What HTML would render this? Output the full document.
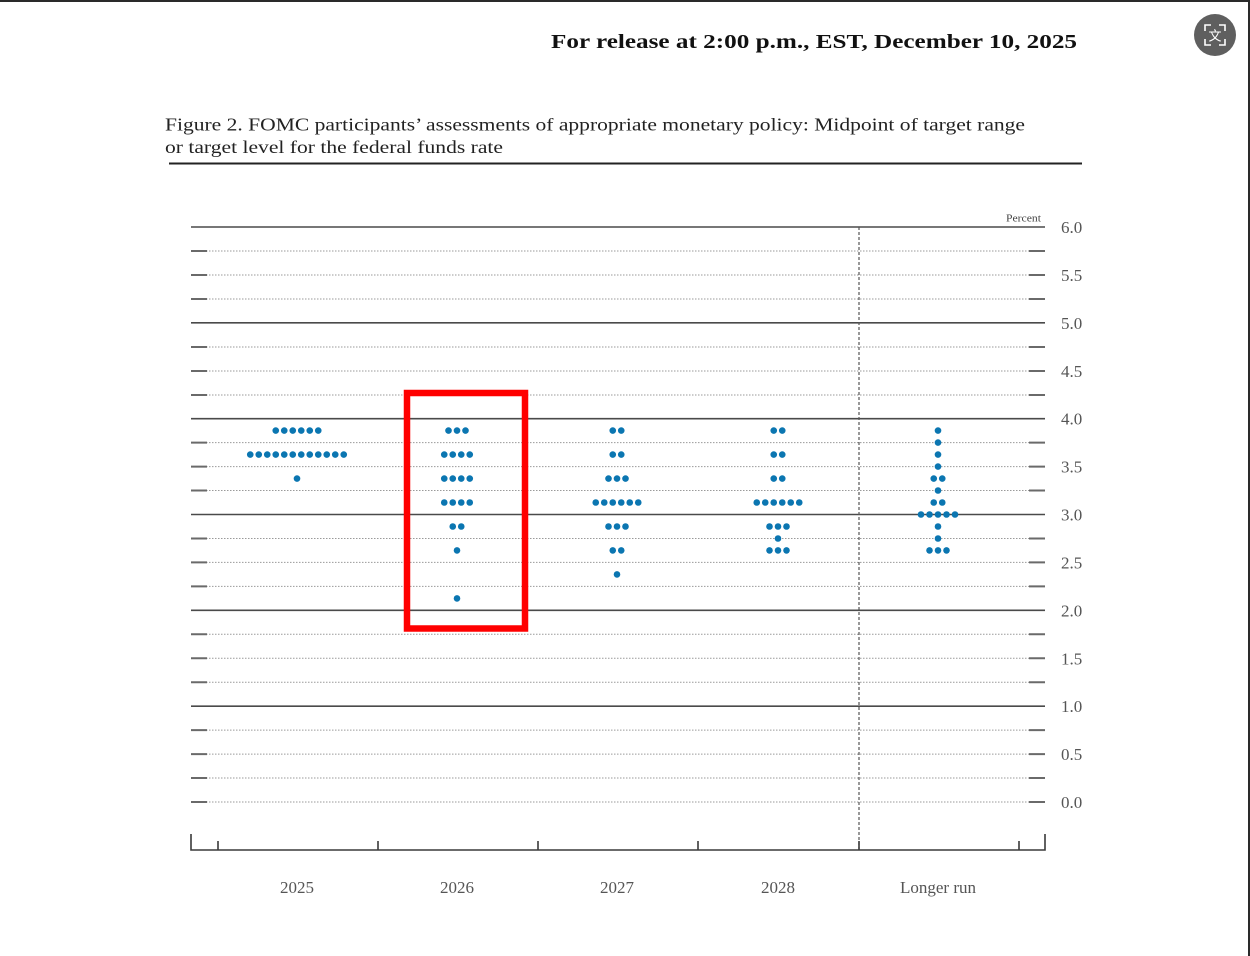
<!DOCTYPE html>
<html>
<head>
<meta charset="utf-8">
<style>
  html,body{margin:0;padding:0;background:#fff;}
  body{width:1250px;height:956px;overflow:hidden;}
  svg{display:block;}
  .lbl{font-family:"Liberation Serif",serif;fill:#555;}
</style>
</head>
<body>
<svg width="1250" height="956" viewBox="0 0 1250 956" xmlns="http://www.w3.org/2000/svg">
  <rect x="0" y="0" width="1250" height="956" fill="#fff"/>
  <!-- frame -->
  <rect x="0" y="0" width="1250" height="2" fill="#2a2a2a"/>
  <rect x="1248" y="0" width="2" height="956" fill="#2a2a2a"/>

  <!-- translate icon -->
  <circle cx="1215" cy="35" r="21" fill="#5f5f5f"/>
  <g stroke="#fff" stroke-width="1.6" fill="none">
    <path d="M1205 31 V25 H1211"/>
    <path d="M1219 25 H1225 V31"/>
    <path d="M1225 39 V45 H1219"/>
    <path d="M1211 45 H1205 V39"/>
  </g>
  <text x="1215" y="40.5" text-anchor="middle" font-family="'Noto Sans CJK SC', sans-serif" font-size="13" fill="#fff">文</text>

  <!-- header -->
  <text x="551" y="48" font-family="'Liberation Serif', serif" font-weight="bold" font-size="20" fill="#111" textLength="526" lengthAdjust="spacingAndGlyphs">For release at 2:00 p.m., EST, December 10, 2025</text>

  <!-- title -->
  <text x="165" y="130.5" font-family="'Liberation Serif', serif" font-size="18" fill="#222" textLength="860" lengthAdjust="spacingAndGlyphs">Figure 2. FOMC participants’ assessments of appropriate monetary policy: Midpoint of target range</text>
  <text x="165" y="153" font-family="'Liberation Serif', serif" font-size="18" fill="#222" textLength="338" lengthAdjust="spacingAndGlyphs">or target level for the federal funds rate</text>
  <line x1="169" y1="163.5" x2="1082" y2="163.5" stroke="#222" stroke-width="2"/>

  <!-- dotted gridlines -->
  <g stroke="#9a9a9a" stroke-width="1" stroke-dasharray="1.5 1.5">
    <line x1="191" y1="251" x2="1045" y2="251"/>
    <line x1="191" y1="275" x2="1045" y2="275"/>
    <line x1="191" y1="299" x2="1045" y2="299"/>
    <line x1="191" y1="347" x2="1045" y2="347"/>
    <line x1="191" y1="371" x2="1045" y2="371"/>
    <line x1="191" y1="395" x2="1045" y2="395"/>
    <line x1="191" y1="442.6" x2="1045" y2="442.6"/>
    <line x1="191" y1="466.6" x2="1045" y2="466.6"/>
    <line x1="191" y1="490.5" x2="1045" y2="490.5"/>
    <line x1="191" y1="538.5" x2="1045" y2="538.5"/>
    <line x1="191" y1="562.4" x2="1045" y2="562.4"/>
    <line x1="191" y1="586.4" x2="1045" y2="586.4"/>
    <line x1="191" y1="634.3" x2="1045" y2="634.3"/>
    <line x1="191" y1="658.3" x2="1045" y2="658.3"/>
    <line x1="191" y1="682.2" x2="1045" y2="682.2"/>
    <line x1="191" y1="730.1" x2="1045" y2="730.1"/>
    <line x1="191" y1="754.1" x2="1045" y2="754.1"/>
    <line x1="191" y1="778" x2="1045" y2="778"/>
    <line x1="191" y1="802" x2="1045" y2="802"/>
  </g>
  <!-- short tick marks at ends -->
  <g stroke="#6a6a6a" stroke-width="2">
    <path d="M191 251H207M191 275H207M191 299H207M191 347H207M191 371H207M191 395H207M191 442.6H207M191 466.6H207M191 490.5H207M191 538.5H207M191 562.4H207M191 586.4H207M191 634.3H207M191 658.3H207M191 682.2H207M191 730.1H207M191 754.1H207M191 778H207M191 802H207"/>
    <path d="M1029 251H1045M1029 275H1045M1029 299H1045M1029 347H1045M1029 371H1045M1029 395H1045M1029 442.6H1045M1029 466.6H1045M1029 490.5H1045M1029 538.5H1045M1029 562.4H1045M1029 586.4H1045M1029 634.3H1045M1029 658.3H1045M1029 682.2H1045M1029 730.1H1045M1029 754.1H1045M1029 778H1045M1029 802H1045"/>
  </g>
  <!-- solid gridlines -->
  <g stroke="#4a4a4a" stroke-width="1.6">
    <line x1="191" y1="227" x2="1045" y2="227"/>
    <line x1="191" y1="322.8" x2="1045" y2="322.8"/>
    <line x1="191" y1="418.7" x2="1045" y2="418.7"/>
    <line x1="191" y1="514.5" x2="1045" y2="514.5"/>
    <line x1="191" y1="610.3" x2="1045" y2="610.3"/>
    <line x1="191" y1="706.2" x2="1045" y2="706.2"/>
  </g>

  <!-- vertical dashed separator -->
  <line x1="859" y1="227" x2="859" y2="850" stroke="#555" stroke-width="1.2" stroke-dasharray="3 2"/>

  <!-- bottom axis -->
  <g stroke="#3a3a3a" stroke-width="1.6" fill="none">
    <path d="M191 834V850H1045V834"/>
    <path d="M218 841V850M378 841V850M538 841V850M698 841V850M859 841V850M1019 841V850"/>
  </g>

  <!-- y labels -->
  <g class="lbl" font-size="17">
    <text x="1061" y="233">6.0</text>
    <text x="1061" y="281">5.5</text>
    <text x="1061" y="329">5.0</text>
    <text x="1061" y="377">4.5</text>
    <text x="1061" y="424.7">4.0</text>
    <text x="1061" y="472.6">3.5</text>
    <text x="1061" y="520.5">3.0</text>
    <text x="1061" y="568.4">2.5</text>
    <text x="1061" y="616.3">2.0</text>
    <text x="1061" y="664.3">1.5</text>
    <text x="1061" y="712.2">1.0</text>
    <text x="1061" y="760.1">0.5</text>
    <text x="1061" y="808">0.0</text>
  </g>
  <text x="1041" y="221.5" text-anchor="end" font-family="'Liberation Serif', serif" font-size="11" fill="#444" textLength="35" lengthAdjust="spacingAndGlyphs">Percent</text>

  <!-- x labels -->
  <g class="lbl" font-size="17" text-anchor="middle">
    <text x="297" y="893">2025</text>
    <text x="457" y="893">2026</text>
    <text x="617" y="893">2027</text>
    <text x="778" y="893">2028</text>
    <text x="938" y="893">Longer run</text>
  </g>

  <!-- dots -->
  <g fill="#0b76b1">
    <!-- 2025 -->
    <circle cx="275.75" cy="430.6" r="3.3"/><circle cx="284.25" cy="430.6" r="3.3"/><circle cx="292.75" cy="430.6" r="3.3"/><circle cx="301.25" cy="430.6" r="3.3"/><circle cx="309.75" cy="430.6" r="3.3"/><circle cx="318.25" cy="430.6" r="3.3"/>
    <circle cx="250.25" cy="454.6" r="3.3"/><circle cx="258.75" cy="454.6" r="3.3"/><circle cx="267.25" cy="454.6" r="3.3"/><circle cx="275.75" cy="454.6" r="3.3"/><circle cx="284.25" cy="454.6" r="3.3"/><circle cx="292.75" cy="454.6" r="3.3"/><circle cx="301.25" cy="454.6" r="3.3"/><circle cx="309.75" cy="454.6" r="3.3"/><circle cx="318.25" cy="454.6" r="3.3"/><circle cx="326.75" cy="454.6" r="3.3"/><circle cx="335.25" cy="454.6" r="3.3"/><circle cx="343.75" cy="454.6" r="3.3"/>
    <circle cx="297" cy="478.6" r="3.3"/>
    <!-- 2026 -->
    <circle cx="448.5" cy="430.6" r="3.3"/><circle cx="457" cy="430.6" r="3.3"/><circle cx="465.5" cy="430.6" r="3.3"/>
    <circle cx="444.25" cy="454.6" r="3.3"/><circle cx="452.75" cy="454.6" r="3.3"/><circle cx="461.25" cy="454.6" r="3.3"/><circle cx="469.75" cy="454.6" r="3.3"/>
    <circle cx="444.25" cy="478.6" r="3.3"/><circle cx="452.75" cy="478.6" r="3.3"/><circle cx="461.25" cy="478.6" r="3.3"/><circle cx="469.75" cy="478.6" r="3.3"/>
    <circle cx="444.25" cy="502.5" r="3.3"/><circle cx="452.75" cy="502.5" r="3.3"/><circle cx="461.25" cy="502.5" r="3.3"/><circle cx="469.75" cy="502.5" r="3.3"/>
    <circle cx="452.75" cy="526.5" r="3.3"/><circle cx="461.25" cy="526.5" r="3.3"/>
    <circle cx="457" cy="550.4" r="3.3"/>
    <circle cx="457" cy="598.4" r="3.3"/>
    <!-- 2027 -->
    <circle cx="612.75" cy="430.6" r="3.3"/><circle cx="621.25" cy="430.6" r="3.3"/>
    <circle cx="612.75" cy="454.6" r="3.3"/><circle cx="621.25" cy="454.6" r="3.3"/>
    <circle cx="608.5" cy="478.6" r="3.3"/><circle cx="617" cy="478.6" r="3.3"/><circle cx="625.5" cy="478.6" r="3.3"/>
    <circle cx="595.75" cy="502.5" r="3.3"/><circle cx="604.25" cy="502.5" r="3.3"/><circle cx="612.75" cy="502.5" r="3.3"/><circle cx="621.25" cy="502.5" r="3.3"/><circle cx="629.75" cy="502.5" r="3.3"/><circle cx="638.25" cy="502.5" r="3.3"/>
    <circle cx="608.5" cy="526.5" r="3.3"/><circle cx="617" cy="526.5" r="3.3"/><circle cx="625.5" cy="526.5" r="3.3"/>
    <circle cx="612.75" cy="550.4" r="3.3"/><circle cx="621.25" cy="550.4" r="3.3"/>
    <circle cx="617" cy="574.4" r="3.3"/>
    <!-- 2028 -->
    <circle cx="773.75" cy="430.6" r="3.3"/><circle cx="782.25" cy="430.6" r="3.3"/>
    <circle cx="773.75" cy="454.6" r="3.3"/><circle cx="782.25" cy="454.6" r="3.3"/>
    <circle cx="773.75" cy="478.6" r="3.3"/><circle cx="782.25" cy="478.6" r="3.3"/>
    <circle cx="756.75" cy="502.5" r="3.3"/><circle cx="765.25" cy="502.5" r="3.3"/><circle cx="773.75" cy="502.5" r="3.3"/><circle cx="782.25" cy="502.5" r="3.3"/><circle cx="790.75" cy="502.5" r="3.3"/><circle cx="799.25" cy="502.5" r="3.3"/>
    <circle cx="769.5" cy="526.5" r="3.3"/><circle cx="778" cy="526.5" r="3.3"/><circle cx="786.5" cy="526.5" r="3.3"/>
    <circle cx="778" cy="538.5" r="3.3"/>
    <circle cx="769.5" cy="550.4" r="3.3"/><circle cx="778" cy="550.4" r="3.3"/><circle cx="786.5" cy="550.4" r="3.3"/>
    <!-- Longer run -->
    <circle cx="938" cy="430.6" r="3.3"/>
    <circle cx="938" cy="442.6" r="3.3"/>
    <circle cx="938" cy="454.6" r="3.3"/>
    <circle cx="938" cy="466.6" r="3.3"/>
    <circle cx="933.75" cy="478.6" r="3.3"/><circle cx="942.25" cy="478.6" r="3.3"/>
    <circle cx="938" cy="490.5" r="3.3"/>
    <circle cx="933.75" cy="502.5" r="3.3"/><circle cx="942.25" cy="502.5" r="3.3"/>
    <circle cx="921" cy="514.5" r="3.3"/><circle cx="929.5" cy="514.5" r="3.3"/><circle cx="938" cy="514.5" r="3.3"/><circle cx="946.5" cy="514.5" r="3.3"/><circle cx="955" cy="514.5" r="3.3"/>
    <circle cx="938" cy="526.5" r="3.3"/>
    <circle cx="938" cy="538.5" r="3.3"/>
    <circle cx="929.5" cy="550.4" r="3.3"/><circle cx="938" cy="550.4" r="3.3"/><circle cx="946.5" cy="550.4" r="3.3"/>
  </g>

  <!-- red highlight box -->
  <rect x="407" y="393" width="118" height="235.5" fill="none" stroke="#ff0000" stroke-width="6.5"/>
</svg>
</body>
</html>
